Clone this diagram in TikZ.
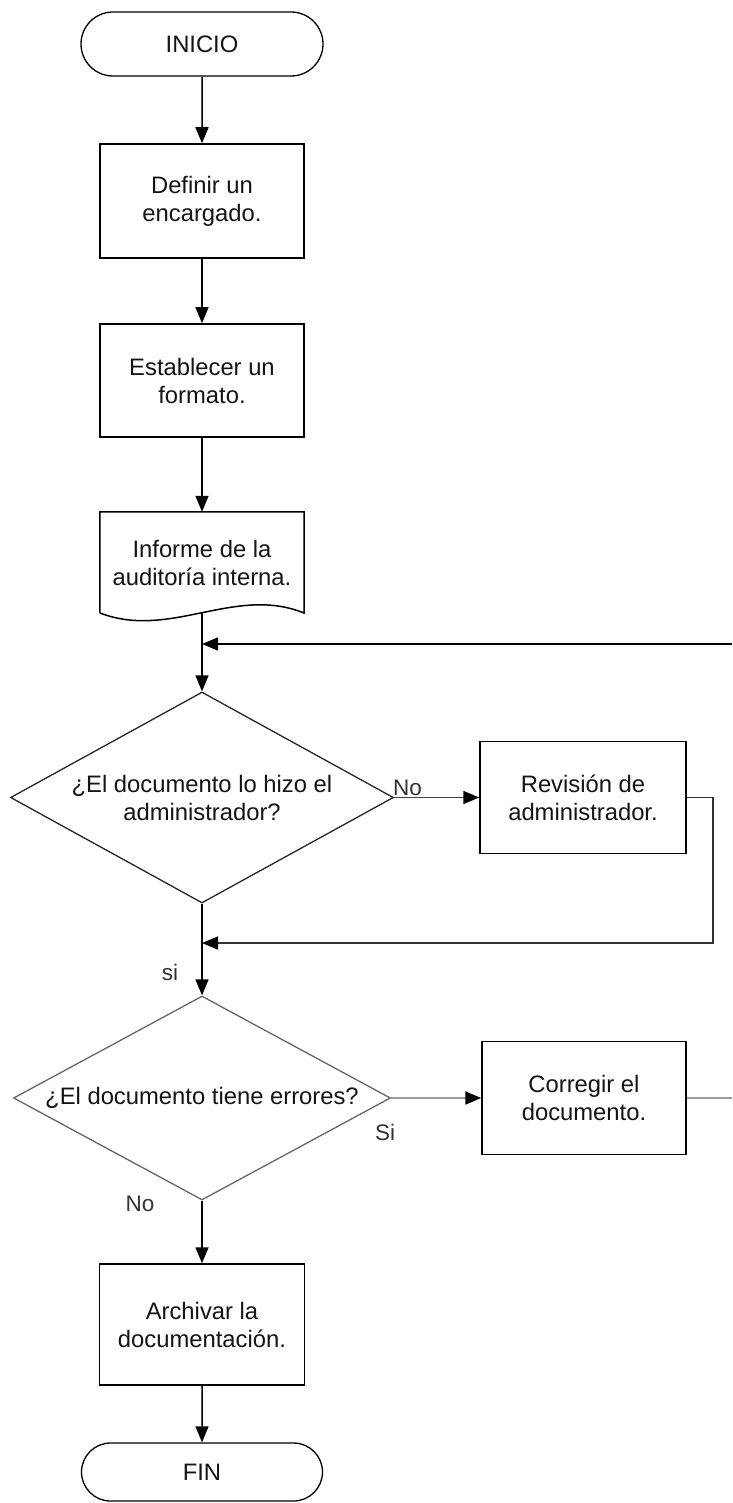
\documentclass[tikz,border=0pt]{standalone}
\usepackage{fontspec}
\setmainfont{Liberation Sans}
\usetikzlibrary{shapes.geometric,shapes.misc,arrows.meta}
\begin{document}
\begin{tikzpicture}[x=1pt,y=-1pt,
  every node/.style={font=\fontsize{23.8}{28}\selectfont, text=black!92},
  proc/.style={draw, line width=1.5pt, rectangle, minimum width=204pt, minimum height=114pt, align=center, inner sep=0pt},
  term/.style={draw, line width=1.3pt, rounded rectangle, minimum width=242pt, minimum height=64pt, inner sep=0pt},
  dec/.style={draw, line width=1.3pt, diamond, inner sep=0pt},
  conn/.style={line width=1.5pt, -{Triangle[length=16pt,width=13pt,color=black]}},
  lbl/.style={font=\fontsize{22.5}{26}\selectfont, text=black!80, inner sep=1pt}
]
\useasboundingbox (0,0) rectangle (732,1503);
\fill[white] (0,0) rectangle (732,1503);

% nodes
\node[term] (ini) at (202,44) {INICIO};
\node[proc] (def) at (202,201) {Definir un\\encargado.};
\node[proc, minimum height=113pt] (est) at (202,380.5) {Establecer un\\formato.};
\node[minimum width=204pt, minimum height=101pt, inner sep=0pt, align=center] (doc) at (202,562.5) {Informe de la\\auditoría interna.};
\draw[line width=1.5pt] (100,613) -- (doc.north west) -- (doc.north east) -- (304,613)
  .. controls (235,585) and (170,640) .. (100,613);
\coordinate (docb) at (202,612.6);

\node[dec, draw=black!85, minimum width=383pt, minimum height=211pt] (d1) at (202,797.5) {};
\node[align=center, inner sep=0pt] (t1) at (d1) {¿El documento lo hizo el\\administrador?};

\node[proc, minimum width=206pt, minimum height=112pt] (rev) at (583,797.5) {Revisión de\\administrador.};

\node[dec, draw=black!60, minimum width=377pt, minimum height=204pt] (d2) at (202,1098) {};
\node[inner sep=0pt] (t2) at (d2) {¿El documento tiene errores?};

\node[proc, minimum height=113pt] (cor) at (584,1098) {Corregir el\\documento.};
\node[proc, minimum width=205pt, minimum height=121pt] (arch) at (202,1324.5) {Archivar la\\documentación.};
\node[term, minimum width=241pt, minimum height=58pt] (fin) at (202,1472) {FIN};

% coordinates for free ends and bends
\coordinate (inR) at (732,644);
\coordinate (inL) at (202,644);
\coordinate (retTR) at (713,797.5);
\coordinate (retBR) at (713,943);
\coordinate (retL) at (202,943);
\coordinate (corR) at (732,1098);

% connectors
\draw[conn] (ini) -- (def);
\draw[conn] (def) -- (est);
\draw[conn] (est) -- (doc.north);
\draw[conn] (docb) -- (d1.north);
\draw[conn] (inR) -- (inL);
\draw[conn, draw=black!75] (d1.east) -- (rev.west);
\node[lbl, anchor=south west] (lno1) at (392,797) {No};
\draw[conn, draw=black!80] (rev.east) -- (retTR) -- (retBR) -- (retL);
\draw[conn] (d1.south) -- (d2.north);
\node[lbl] (lsi) at (170,972) {si};
\draw[conn, line width=2pt, draw=black!40] (d2.east) -- (cor.west);
\node[lbl] (lsi2) at (385,1132) {Si};
\draw[line width=2pt, draw=black!40] (cor.east) -- (corR);
\draw[conn] (d2.south) -- (arch.north);
\node[lbl] (lno2) at (140,1204) {No};
\draw[conn] (arch) -- (fin);
\end{tikzpicture}
\end{document}
